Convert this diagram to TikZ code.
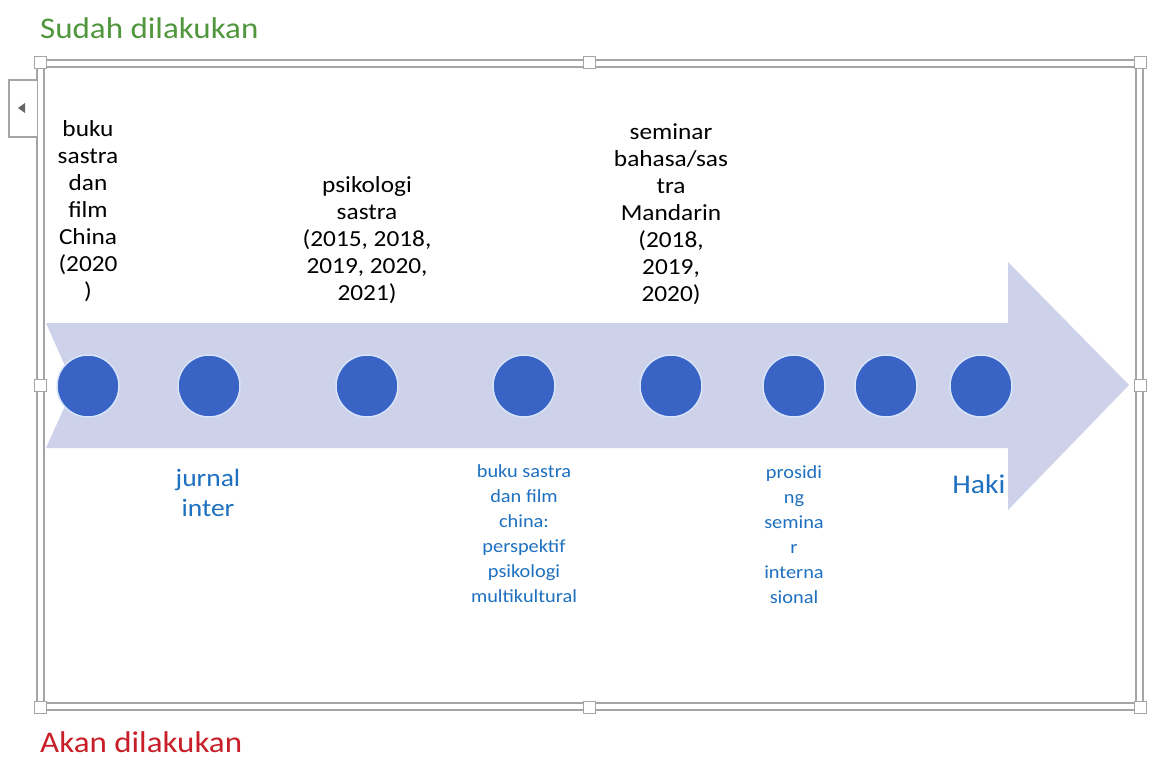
\documentclass[tikz,border=0pt]{standalone}
\usepackage{fontspec}
\setmainfont{Carlito}[FakeStretch=1.1]
\definecolor{arrowc}{RGB}{205,209,233}
\definecolor{dotc}{RGB}{58,99,198}
\definecolor{dotring}{RGB}{215,228,250}
\definecolor{bluet}{RGB}{30,112,192}
\definecolor{greent}{RGB}{80,150,60}
\definecolor{redt}{RGB}{200,30,40}
\definecolor{framec}{RGB}{165,165,165}
\tikzset{
  dot/.style={circle, fill=dotc, draw=dotring, line width=1.5pt, minimum size=62pt, inner sep=0pt},
  handle/.style={draw=framec, fill=white, minimum size=12pt, inner sep=0pt, line width=1pt},
  toptext/.style={align=center, inner sep=0pt, text=black, font=\fontsize{23}{27}\selectfont},
  bigblue/.style={align=center, inner sep=0pt, text=bluet, font=\fontsize{25}{30}\selectfont},
  smallblue/.style={align=center, inner sep=0pt, text=bluet, font=\fontsize{18.5}{25}\selectfont},
  title/.style={anchor=west, inner sep=0pt, font=\fontsize{30}{36}\selectfont},
  framel/.style={draw=framec, line width=1.2pt}
}
\begin{document}
\begin{tikzpicture}[x=1pt,y=-1pt]
\useasboundingbox (0,0) rectangle (1152,760);
\fill[white] (0,0) rectangle (1152,760);
% titles
\node[title, text=greent] (sudah) at (40,28) {Sudah dilakukan};
\node[title, text=redt] (akan) at (40,742) {Akan dilakukan};
% frame
\draw[framel] (37,60) rectangle (1143,710);
\draw[framel] (44,67) rectangle (1136,703);
% left tab
\draw[framel, fill=white] (37,80) -- (9,80) -- (9,137) -- (37,137);
\fill[gray!80!black] (18,108) -- (25,103) -- (25,113) -- cycle;
% arrow
\fill[arrowc] (46,323) -- (1008,323) -- (1008,262) -- (1129,385) -- (1008,510) -- (1008,448) -- (46,448) -- (74,386) -- cycle;
% handles
\node[handle] (h1) at (40,63) {};
\node[handle] (h2) at (589,63) {};
\node[handle] (h3) at (1140,63) {};
\node[handle] (h4) at (40,385) {};
\node[handle] (h5) at (1140,385) {};
\node[handle] (h6) at (40,707) {};
\node[handle] (h7) at (589,707) {};
\node[handle] (h8) at (1140,707) {};
% dots
\node[dot] (d1) at (88,386) {};
\node[dot] (d2) at (209,386) {};
\node[dot] (d3) at (367,386) {};
\node[dot] (d4) at (524,386) {};
\node[dot] (d5) at (671,386) {};
\node[dot] (d6) at (794,386) {};
\node[dot] (d7) at (886,386) {};
\node[dot] (d8) at (981,386) {};
% top texts
\node[toptext] (t1) at (88,211) {buku\\sastra\\dan\\film\\China\\(2020\\)};
\node[toptext] (t3) at (367,240) {psikologi\\sastra\\(2015, 2018,\\2019, 2020,\\2021)};
\node[toptext] (t5) at (671,214) {seminar\\bahasa/sas\\tra\\Mandarin\\(2018,\\2019,\\2020)};
% bottom texts
\node[bigblue] (b2) at (208,493) {jurnal\\inter};
\node[smallblue] (b4) at (524,534) {buku sastra\\dan film\\china:\\perspektif\\psikologi\\multikultural};
\node[smallblue] (b6) at (794,535) {prosidi\\ng\\semina\\r\\interna\\sional};
\node[bigblue, font=\fontsize{27}{30}\selectfont] (b8) at (979,484) {Haki};
\end{tikzpicture}
\end{document}
